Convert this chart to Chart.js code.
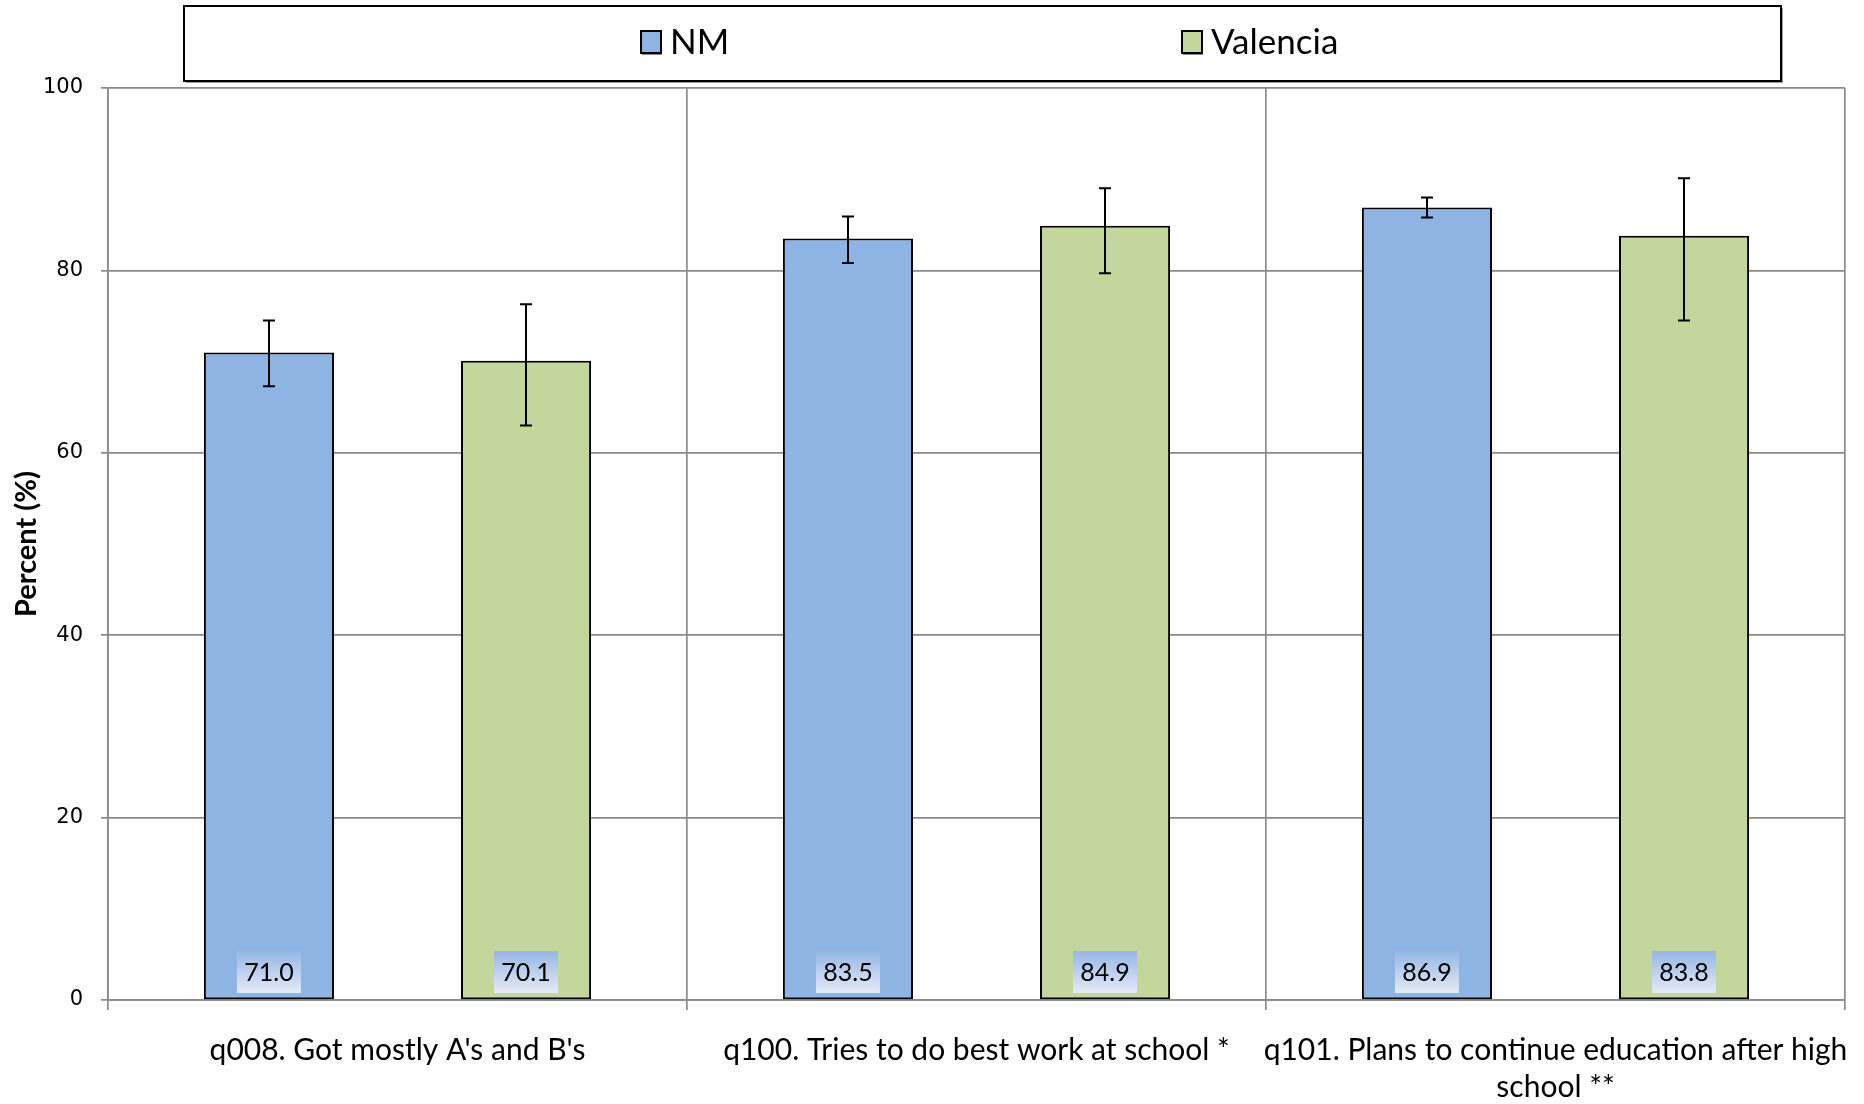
<!DOCTYPE html>
<html><head><meta charset="utf-8">
<script src="https://cdn.jsdelivr.net/npm/chart.js@4.4.1/dist/chart.umd.min.js"></script>
<style>html,body{margin:0;padding:0;background:#fff;}#wrap{width:1864px;height:1104px;position:relative;}</style>
</head><body><div id="wrap"><canvas id="c" width="1864" height="1104"></canvas></div>
<script>
const categories = ["q008. Got mostly A's and B's", "q100. Tries to do best work at school *", ["q101. Plans to continue education after high", "school **"]];
const seriesNames = ["NM", "Valencia"];
const nmValues = [71.0, 83.5, 86.9];
const valenciaValues = [70.1, 84.9, 83.8];
const nmLower = [67.3, 80.8, 85.8];
const nmUpper = [74.5, 85.9, 88.0];
const valenciaLower = [63.0, 79.7, 74.5];
const valenciaUpper = [76.3, 89.0, 90.1];
const yTicks = [0, 20, 40, 60, 80, 100];
const yTitle = "Percent (%)";

const colors = ['#8EB4E3', '#C3D69B'];
const lowers = [nmLower, valenciaLower];
const uppers = [nmUpper, valenciaUpper];
const FONT = 'Lato, "Open Sans", sans-serif';
const GRID = '#8a8a8a';

const errorBars = {
  id: 'errorBars',
  afterDatasetsDraw(chart) {
    const ctx = chart.ctx, y = chart.scales.y;
    ctx.save();
    ctx.strokeStyle = '#000';
    ctx.lineWidth = 2;
    chart.data.datasets.forEach((ds, i) => {
      const meta = chart.getDatasetMeta(i);
      meta.data.forEach((el, j) => {
        const x = Math.round(el.x);
        const y1 = y.getPixelForValue(lowers[i][j]);
        const y2 = y.getPixelForValue(uppers[i][j]);
        ctx.beginPath();
        ctx.moveTo(x, y1); ctx.lineTo(x, y2);
        ctx.moveTo(x - 6, y1); ctx.lineTo(x + 6, y1);
        ctx.moveTo(x - 6, y2); ctx.lineTo(x + 6, y2);
        ctx.stroke();
      });
    });
    ctx.restore();
  }
};

const dataLabels = {
  id: 'dataLabels',
  afterDatasetsDraw(chart) {
    const ctx = chart.ctx, y = chart.scales.y;
    const base = y.getPixelForValue(0);
    ctx.save();
    chart.data.datasets.forEach((ds, i) => {
      const meta = chart.getDatasetMeta(i);
      meta.data.forEach((el, j) => {
        const w = 64, h = 42;
        const bx = el.x - w / 2, by = base - 7 - h;
        const g = ctx.createLinearGradient(0, by, 0, by + h);
        g.addColorStop(0, '#95B6E4');
        g.addColorStop(1, '#E4EBF7');
        ctx.fillStyle = g;
        ctx.fillRect(bx, by, w, h);
        ctx.fillStyle = '#000';
        ctx.font = '25px ' + FONT;
        ctx.textAlign = 'center';
        ctx.textBaseline = 'middle';
        ctx.fillText(ds.data[j].toFixed(1), el.x, by + h / 2 + 1);
      });
    });
    ctx.restore();
  }
};

const legendBox = {
  id: 'legendBox',
  afterDraw(chart) {
    const ctx = chart.ctx;
    ctx.save();
    ctx.fillStyle = '#9a9a9a';
    ctx.fillRect(186, 8, 1597, 75);
    ctx.fillStyle = '#fff';
    ctx.fillRect(184, 6, 1597, 75);
    ctx.strokeStyle = '#000';
    ctx.lineWidth = 2;
    ctx.strokeRect(184, 6, 1597, 75);
    const itemX = [641, 1182];
    chart.data.datasets.forEach((ds, i) => {
      const sx = itemX[i];
      ctx.fillStyle = '#8a8a8a';
      ctx.fillRect(sx + 1, 33, 20, 22);
      ctx.fillStyle = ds.backgroundColor;
      ctx.fillRect(sx, 31, 20, 22);
      ctx.strokeStyle = '#000';
      ctx.lineWidth = 2;
      ctx.strokeRect(sx, 31, 20, 22);
      ctx.fillStyle = '#000';
      ctx.font = '35px ' + FONT;
      ctx.textAlign = 'left';
      ctx.textBaseline = 'middle';
      ctx.fillText(ds.label, sx + 29, 43);
    });
    ctx.restore();
  }
};

new Chart(document.getElementById('c'), {
  type: 'bar',
  data: {
    labels: categories,
    datasets: [
      { label: seriesNames[0], data: nmValues, backgroundColor: colors[0], borderColor: '#000', borderWidth: 2, borderSkipped: false },
      { label: seriesNames[1], data: valenciaValues, backgroundColor: colors[1], borderColor: '#000', borderWidth: 2, borderSkipped: false }
    ]
  },
  options: {
    responsive: false,
    animation: false,
    events: [],
    layout: { padding: { top: 88, right: 19, left: 0, bottom: 0 } },
    datasets: { bar: { categoryPercentage: 0.888, barPercentage: 0.506 } },
    plugins: { legend: { display: false }, tooltip: { enabled: false } },
    scales: {
      x: {
        grid: { offset: true, color: GRID, lineWidth: 1.7, tickLength: 10, drawOnChartArea: true },
        border: { color: GRID, width: 1.7 },
        ticks: { color: '#000', font: { family: FONT, size: 30, lineHeight: 1.23 }, padding: 22, maxRotation: 0, autoSkip: false },
        afterFit(s) { s.height = 104; s.paddingLeft = 0; s.paddingRight = 0; }
      },
      y: {
        min: 0, max: 100,
        afterBuildTicks(s) { s.ticks = yTicks.map(v => ({ value: v })); },
        grid: { color: GRID, lineWidth: 1.7, tickLength: 7 },
        border: { color: GRID, width: 1.7 },
        ticks: { color: '#000', font: { family: '"DejaVu Sans", sans-serif', size: 21 }, padding: 18 },
        title: { display: true, text: yTitle, color: '#000', font: { family: FONT, size: 29, weight: 'bold' }, padding: { top: 9, bottom: 0 } },
        afterFit(s) { s.width = 108; s.paddingTop = 0; s.paddingBottom = 0; }
      }
    }
  },
  plugins: [dataLabels, errorBars, legendBox]
});
</script></body></html>
